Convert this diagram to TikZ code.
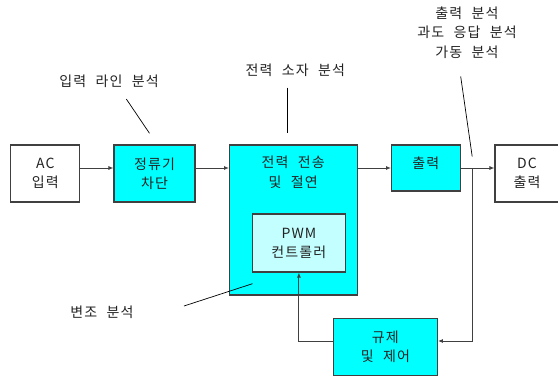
\documentclass[tikz,border=0pt]{standalone}
\usepackage{fontspec}
\setmainfont[LetterSpace=8,WordSpace=2.2]{Noto Sans CJK KR}
\usetikzlibrary{arrows.meta}
\definecolor{boxcyan}{HTML}{00FFFF}
\definecolor{lightcyan}{HTML}{C4FFFF}
\definecolor{edge}{HTML}{404040}
\definecolor{txt}{HTML}{222222}
\begin{document}
\begin{tikzpicture}[x=1pt,y=-1pt,
  box/.style={draw=edge,line width=1.1pt,rectangle,inner sep=0pt,align=center,text=txt,font=\fontsize{14}{19}\selectfont},
  whitebox/.style={box,fill=white},
  cyanbox/.style={box,fill=boxcyan},
  pwmbox/.style={box,fill=lightcyan},
  lbl/.style={text=txt,align=center,inner sep=0pt,font=\fontsize{14}{19.5}\selectfont},
  conn/.style={draw=edge,line width=0.9pt},
  arr/.style={conn,-{Latex[length=5pt,width=4pt]}},
  lead/.style={draw=black,line width=0.7pt}]
\useasboundingbox (0,0) rectangle (558,378);
\fill[white] (0,0) rectangle (558,378);
% boxes
\node[whitebox,minimum width=69pt,minimum height=57pt] (ac) at (45.3,173.5) {AC\\입력};
\node[cyanbox,minimum width=81pt,minimum height=57pt] (rect) at (154.5,173.5) {정류기\\차단};
\node[cyanbox,minimum width=127.5pt,minimum height=150pt] (power) at (293.3,220) {};
\node[lbl] (powertxt) at (293.3,172.3) {전력 전송\\및 절연};
\node[pwmbox,minimum width=92.3pt,minimum height=58pt] (pwm) at (298.9,243) {PWM\\컨트롤러};
\node[cyanbox,minimum width=68.5pt,minimum height=46pt] (out) at (425.8,168) {};
\node[lbl] (outtxt) at (425.8,163.5) {출력};
\node[whitebox,minimum width=64pt,minimum height=57pt] (dc) at (527,173.5) {DC\\출력};
\node[cyanbox,minimum width=104pt,minimum height=57.5pt] (reg) at (385.4,347) {규제\\및 제어};
% labels
\node[lbl] (l1) at (109,81) {입력 라인 분석};
\node[lbl] (l2) at (295.4,70) {전력 소자 분석};
\node[lbl] (l3) at (467,32.3) {출력 분석\\과도 응답 분석\\가동 분석};
\node[lbl] (l4) at (102,312) {변조 분석};
% connectors
\coordinate (mainline) at (0,168);
\coordinate (fb) at (0,341);
\coordinate (br) at (472,168);
\draw[arr] (ac.east |- mainline) -- (rect.west |- mainline);
\draw[arr] (rect.east |- mainline) -- (power.west |- mainline);
\draw[arr] (power.east |- mainline) -- (out.west);
\draw[arr] (out.east) -- (dc.west |- out.east);
\draw[arr] (br) |- (reg.east |- fb);
\draw[arr] (reg.west |- fb) -| (pwm.south);
% leader lines
\coordinate (a1) at (126.3,99);
\coordinate (b1) at (149.5,133.3);
\coordinate (a2) at (287.2,87.7);
\coordinate (b2) at (287.2,133.3);
\coordinate (a3) at (460.7,76.5);
\coordinate (b3) at (472.2,156.5);
\coordinate (a4) at (184,306);
\coordinate (b4) at (252.5,283.7);
\draw[lead] (a1) -- (b1);
\draw[lead] (a2) -- (b2);
\draw[lead] (a3) -- (b3);
\draw[lead] (a4) -- (b4);
\end{tikzpicture}
\end{document}
